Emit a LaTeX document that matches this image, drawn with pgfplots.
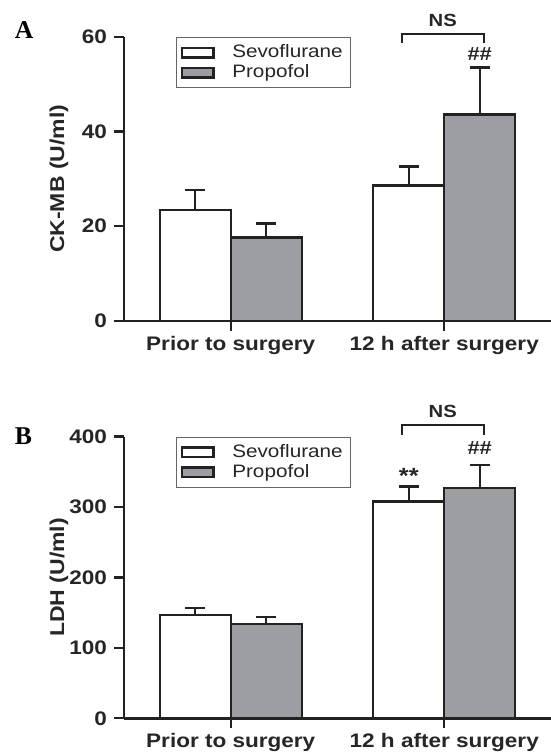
\documentclass[border=0pt]{standalone}
\usepackage{pgfplots}
\pgfplotsset{compat=1.18}
\usepackage{fontspec}
\setmainfont[FakeStretch=1.15]{Liberation Sans}
\newfontfamily\serifbf{Liberation Serif}
\definecolor{barg}{HTML}{9D9EA2}
\definecolor{ink}{HTML}{222222}
\definecolor{txt}{HTML}{262626}

\pgfplotsset{
 myaxis/.style={
  scale only axis, width=213.5pt,
  xmin=-0.5, xmax=1.5, ymin=0,
  axis lines*=left, axis line style={-, line width=1.3pt, ink},
  ybar, bar width=0.3325,
  xtick={0,1}, xticklabels={Prior to surgery, 12 h after surgery},
  tick align=outside, major tick length=5pt,
  tick style={line width=1.2pt, ink},
  x tick label style={font=\fontsize{9.8}{12}\selectfont\bfseries, text=txt, yshift=1pt},
  y tick label style={font=\fontsize{9.8}{11}\selectfont\bfseries, text=txt},
  /pgf/number format/assume math mode=true,
  ylabel style={at={(axis description cs:-0.1525,0.5)}, anchor=center, font=\fontsize{10}{12}\selectfont\bfseries, text=txt},
  legend style={at={(0.122,1)}, anchor=north west, draw=black!60, line width=0.6pt,
     font=\fontsize{9}{11}\selectfont, text=txt, inner xsep=2pt, inner ysep=2.6pt,
     nodes={inner xsep=2pt, inner ysep=1pt},
     /tikz/every odd column/.append style={column sep=6.8pt}},
  legend cell align=left,
  clip=false,
 },
 ebars/.style={error bars/.cd, y dir=plus, y explicit, error bar style={line width=1.2pt, ink}, error mark options={rotate=90, mark size=5pt, line width=1.2pt, ink}},
 sevo/.style={fill=white, draw=ink, line width=1.2pt, bar shift=-0.16625,
   legend image code/.code={\draw[fill=white, draw=ink, line width=1.2pt](0pt,-2.4pt) rectangle (15.8pt,2.4pt);}, ebars},
 prop/.style={fill=barg, draw=ink, line width=1.2pt, bar shift=0.16625,
   legend image code/.code={\draw[fill=barg, draw=ink, line width=1.2pt](0pt,-2.4pt) rectangle (15.8pt,2.4pt);}, ebars},
}
\tikzset{annot/.style={font=\fontsize{8.8}{10}\selectfont\bfseries, text=txt}}

\pgfplotstableread{
x y e
0 23.4 4.2
1 28.6 4.0
}\sevoA
\pgfplotstableread{
x y e
0 17.65 2.9
1 43.6 9.9
}\propA
\pgfplotstableread{
x y e
0 146.3 10.0
1 308.0 21.0
}\sevoB
\pgfplotstableread{
x y e
0 133.5 10.4
1 327.1 32.5
}\propB

\begin{document}
\begin{tikzpicture}
\path[use as bounding box] (0,0) rectangle (275.5pt,377.5pt);

\begin{axis}[myaxis, at={(62pt,217pt)}, anchor=south west, height=142.15pt,
  ymax=60, ytick={0,20,40,60}, ylabel={CK-MB (U/ml)}]
\addplot[sevo] table[x=x, y=y, y error=e] {\sevoA};
\addplot[prop] table[x=x, y=y, y error=e] {\propA};
\legend{Sevoflurane, Propofol}
\draw[ink, line width=1pt] (axis cs:0.80,58.6) -- (axis cs:0.80,60.6) -- (axis cs:1.186,60.6) -- (axis cs:1.186,58.6);
\node[annot] at (axis cs:0.993,63.5) {NS};
\node[annot, font=\fontsize{9.5}{10}\selectfont\bfseries] at (axis cs:1.166,56.3) {\#\#};
\end{axis}

\begin{axis}[myaxis, at={(62pt,18.35pt)}, anchor=south west, height=140.85pt,
  ymax=400, ytick={0,100,200,300,400}, ylabel={LDH (U/ml)}]
\addplot[sevo] table[x=x, y=y, y error=e] {\sevoB};
\addplot[prop] table[x=x, y=y, y error=e] {\propB};
\legend{Sevoflurane, Propofol}
\draw[ink, line width=1pt] (axis cs:0.80,402.6) -- (axis cs:0.80,416) -- (axis cs:1.186,416) -- (axis cs:1.186,402.6);
\node[annot] at (axis cs:0.993,435.5) {NS};
\node[annot, font=\fontsize{9.5}{10}\selectfont\bfseries] at (axis cs:1.166,383.5) {\#\#};
\node[annot, font=\fontsize{11}{12}\selectfont\bfseries] at (axis cs:0.834,344) {**};
\end{axis}

\node[font=\fontsize{12.8}{14}\selectfont\serifbf\bfseries] at (12pt,362.25pt) {A};
\node[font=\fontsize{12.8}{14}\selectfont\serifbf\bfseries] at (11.75pt,159.6pt) {B};
\end{tikzpicture}
\end{document}
